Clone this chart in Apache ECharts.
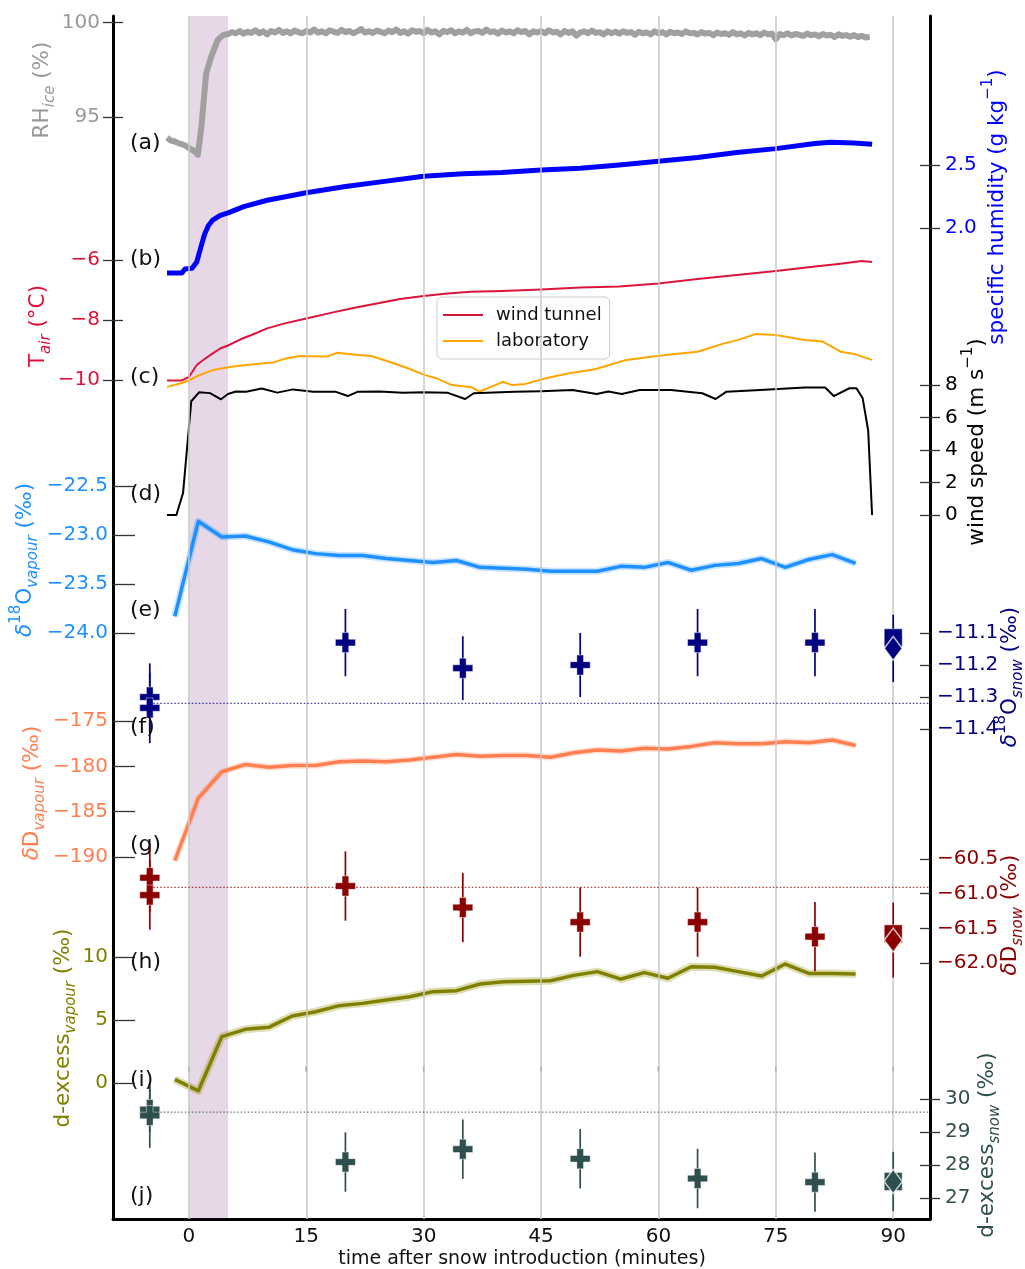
<!DOCTYPE html>
<html>
<head>
<meta charset="utf-8">
<script src="https://cdn.jsdelivr.net/npm/echarts@6/dist/echarts.min.js"></script>
<style>html,body{margin:0;padding:0;background:#fff}#chart{width:1025px;height:1269px}</style>
</head>
<body>
<div id="chart"></div>
<script>
// ================= DATA =================
const xTicks = [0, 15, 30, 45, 60, 75, 90];
const snowIntroBand = [0, 5];

const rhTicks = [95, 100];
const qTicks = [2.0, 2.5];
const tTicks = [-10, -8, -6];
const windTicks = [0, 2, 4, 6, 8];
const d18OvTicks = [-24.0, -23.5, -23.0, -22.5];
const d18OsTicks = [-11.4, -11.3, -11.2, -11.1];
const dDvTicks = [-190, -185, -180, -175];
const dDsTicks = [-62.0, -61.5, -61.0, -60.5];
const dexvTicks = [0, 5, 10];
const dexsTicks = [27, 28, 29, 30];

// (a) relative humidity over ice (%): rise phase, then 0.5-min samples from 5 to 87 min
const rhRiseTime = [-2.8, -2.3, -1.8, -1.3, -0.8, -0.3, 0.2, 0.7, 1.15, 1.6, 2.2, 2.85, 3.7, 4.4];
const rhRiseValue = [93.9, 93.75, 93.7, 93.6, 93.55, 93.45, 93.3, 93.2, 93.0, 94.5, 97.3, 98.2, 99.1, 99.35];
const rhSampleStart = 5, rhSampleStep = 0.5;
const rhSampleValue = [
  99.4, 99.5, 99.44, 99.56, 99.42, 99.52, 99.46, 99.6, 99.44, 99.54, 99.38, 99.56, 99.48, 99.62, 99.46, 99.54, 99.44, 99.58, 99.5, 99.44,
  99.56, 99.48, 99.64, 99.48, 99.54, 99.44, 99.6, 99.52, 99.46, 99.62, 99.5, 99.56, 99.44, 99.54, 99.66, 99.48, 99.54, 99.46, 99.58, 99.52,
  99.44, 99.58, 99.5, 99.64, 99.46, 99.54, 99.42, 99.6, 99.52, 99.56, 99.44, 99.62, 99.48, 99.54, 99.38, 99.56, 99.5, 99.6, 99.44, 99.54,
  99.48, 99.62, 99.44, 99.54, 99.56, 99.46, 99.64, 99.5, 99.54, 99.42, 99.58, 99.48, 99.54, 99.44, 99.6, 99.5, 99.56, 99.38, 99.54, 99.48,
  99.56, 99.44, 99.6, 99.48, 99.52, 99.38, 99.56, 99.46, 99.54, 99.32, 99.48, 99.54, 99.44, 99.58, 99.46, 99.5, 99.38, 99.54, 99.44, 99.52,
  99.42, 99.54, 99.46, 99.5, 99.36, 99.52, 99.44, 99.48, 99.38, 99.54, 99.44, 99.5, 99.38, 99.52, 99.44, 99.48, 99.4, 99.54, 99.44, 99.46,
  99.38, 99.5, 99.42, 99.46, 99.34, 99.48, 99.4, 99.44, 99.36, 99.5, 99.38, 99.44, 99.32, 99.46, 99.38, 99.44, 99.34, 99.48, 99.38, 99.42,
  99.12, 99.4, 99.34, 99.44, 99.32, 99.4, 99.36, 99.3, 99.42, 99.34, 99.38, 99.28, 99.4, 99.32, 99.36, 99.24, 99.38, 99.3, 99.34, 99.26,
  99.34, 99.24, 99.3, 99.22, 99.25];

// (b) specific humidity (g/kg)
const qTime = [-2.8, -0.9, -0.5, 0.4, 1.0, 1.4, 2.0, 2.5, 3.0, 4.0, 5, 7, 10, 15, 20, 25, 30, 35,
  40, 45, 50, 55, 60, 65, 70, 75, 80, 82, 85, 87.3];
const qValue = [1.643, 1.643, 1.675, 1.68, 1.73, 1.82, 1.95, 2.02, 2.06, 2.1, 2.12, 2.17, 2.22,
  2.28, 2.33, 2.37, 2.41, 2.43, 2.44, 2.46, 2.475, 2.5, 2.53, 2.56, 2.6, 2.63, 2.67, 2.68, 2.675, 2.665];

// (c) air temperature (°C)
const tTunnelTime = [-2.8, -1, 0, 1, 2, 3, 4, 5, 6, 7, 8, 10, 12, 15, 18, 21, 24, 27, 30, 33, 36,
  40, 45, 50, 55, 60, 65, 70, 75, 80, 83, 86, 87.3];
const tTunnel = [-10.02, -10.02, -9.9, -9.5, -9.3, -9.12, -8.95, -8.85, -8.72, -8.6, -8.5, -8.28,
  -8.13, -7.95, -7.77, -7.6, -7.45, -7.3, -7.2, -7.12, -7.06, -7.03, -6.98, -6.92, -6.88, -6.78,
  -6.63, -6.5, -6.37, -6.22, -6.13, -6.03, -6.07];
const tLabTime = [-2.8, -0.9, 0.1, 1.4, 3.1, 5.2, 7.3, 10.7, 12.4, 14.1, 17.6, 19, 21.6, 23.3, 25.6,
  27.9, 30.1, 31.6, 33.6, 36.1, 37.1, 38.7, 40.1, 41.3, 43, 45.6, 48.4, 51.9, 55.9, 59.3, 62.1, 65,
  68.4, 70.1, 72.4, 75, 78.7, 81, 83.3, 85, 87.3];
const tLab = [-10.23, -10.1, -10.0, -9.83, -9.67, -9.57, -9.5, -9.42, -9.28, -9.2, -9.22, -9.09,
  -9.17, -9.2, -9.39, -9.6, -9.83, -9.94, -10.17, -10.24, -10.39, -10.22, -10.06, -10.17, -10.13,
  -9.94, -9.78, -9.64, -9.33, -9.22, -9.13, -9.06, -8.78, -8.67, -8.47, -8.5, -8.67, -8.72, -9.06,
  -9.13, -9.33];

// (d) wind speed (m/s)
const windTime = [-2.8, -1.6, -0.75, 0.3, 1.3, 2.7, 4.1, 5.0, 6.0, 7.3, 9.3, 11.3, 13.3, 15.9, 18.7,
  20.3, 21.6, 24.4, 27.3, 30, 33, 35.3, 36.4, 41.6, 45, 49, 52.1, 53.6, 55.3, 57.6, 61.6, 65.6,
  67.3, 68.7, 73, 78.7, 81.3, 82.4, 84.4, 85.3, 86.1, 86.8, 87.3];
const windValue = [0, 0, 1.35, 7.0, 7.55, 7.5, 7.12, 7.45, 7.6, 7.59, 7.78, 7.53, 7.73, 7.59, 7.59,
  7.32, 7.59, 7.6, 7.53, 7.55, 7.53, 7.14, 7.49, 7.59, 7.62, 7.69, 7.45, 7.6, 7.45, 7.69, 7.69,
  7.49, 7.14, 7.59, 7.69, 7.84, 7.85, 7.32, 7.8, 7.8, 7.18, 5.2, 0];

// vapour isotopes (3-min means)
const isoTime = [-1.8, 1.2, 4.2, 7.2, 10.2, 13.2, 16.2, 19.2, 22.2, 25.2, 28.2, 31.2, 34.2, 37.2,
  40.2, 43.2, 46.2, 49.2, 52.2, 55.2, 58.2, 61.2, 64.2, 67.2, 70.2, 73.2, 76.2, 79.2, 82.2, 85.2];
const d18Ovap = [-23.83, -22.86, -23.02, -23.01, -23.07, -23.15, -23.19, -23.21, -23.21, -23.24,
  -23.26, -23.28, -23.26, -23.33, -23.34, -23.35, -23.37, -23.37, -23.37, -23.32, -23.33, -23.28,
  -23.36, -23.31, -23.29, -23.24, -23.33, -23.25, -23.20, -23.29];
const dDvap = [-190.4, -183.5, -180.6, -179.8, -180.1, -179.9, -179.9, -179.5, -179.4, -179.5,
  -179.3, -179.0, -178.7, -178.9, -178.8, -178.8, -179.0, -178.5, -178.2, -178.3, -178.0, -178.1,
  -177.8, -177.4, -177.5, -177.5, -177.3, -177.4, -177.1, -177.7];
const dexVap = [0.29, -0.63, 3.68, 4.26, 4.42, 5.32, 5.66, 6.14, 6.32, 6.59, 6.85, 7.25, 7.33,
  7.86, 8.04, 8.07, 8.12, 8.54, 8.84, 8.25, 8.76, 8.31, 9.23, 9.18, 8.84, 8.49, 9.44, 8.70, 8.70, 8.65];

// snow samples
const snowTime = [-5, -5, 20, 35, 50, 65, 80];
const d18Osnow = [-11.30, -11.334, -11.13, -11.21, -11.20, -11.13, -11.13];
const d18OsnowErr = [0.105, 0.11, 0.105, 0.1, 0.1, 0.105, 0.105];
const dDsnow = [-60.77, -61.02, -60.89, -61.20, -61.41, -61.41, -61.62];
const dDsnowErr = [0.5, 0.5, 0.5, 0.5, 0.5, 0.5, 0.5];
const dexSnow = [29.68, 29.5, 28.09, 28.48, 28.19, 27.59, 27.48];
const dexSnowErr = [0.68, 0.98, 0.9, 0.9, 0.9, 0.9, 0.9];

// final snow samples (t = 90)
const finalTime = [90];
const d18OsFinalSq = [-11.115], d18OsFinalDia = [-11.148], d18OsFinalErr = [0.105];
const dDsFinalSq = [-61.58], dDsFinalDia = [-61.67], dDsFinalErr = [0.54];
const dexsFinalSq = [27.5], dexsFinalDia = [27.5], dexsFinalErr = [0.9];

// initial snow reference levels (dotted)
const d18OsBase = -11.32, dDsBase = -60.91, dexsBase = 29.6;
const midTickLevel = 1.1; // small x-tick marks of inner panel

// ================= LAYOUT / STYLE =================
const FONT = 'DejaVu Sans';
const W = 1025, H = 1269;
const GRID = {left: 113, right: 95, top: 16, bottom: 50};
const T0 = GRID.top, B0 = H - GRID.bottom;
const X_MIN = -9.7, X_MAX = 94.7;
const PLUS = 'path://M2,0H4V2H6V4H4V6H2V4H0V2H2Z';

const rhTime = rhRiseTime.concat(rhSampleValue.map((_, i) => rhSampleStart + i * rhSampleStep));
const rhValue = rhRiseValue.concat(rhSampleValue);

function span(v1, p1, v2, p2) {
  const s = (p1 - p2) / (v2 - v1);
  return {min: v1 - (B0 - p1) / s, max: v1 + (p1 - T0) / s};
}
function fmt(v, d) { return Number(v).toFixed(d).replace('-', '\u2212'); }

const axisSpecs = [
  {key: 'rh', pos: 'left', cal: [100, 22.7, 95, 117], ticks: rhTicks, dec: 0, color: '#999999', tick: 'cross', spine: true},
  {key: 'q', pos: 'right', cal: [2.5, 165, 2.0, 228], ticks: qTicks, dec: 1, color: '#0000ff', tick: 'cross', spine: true},
  {key: 'T', pos: 'left', cal: [-6, 260, -10, 380], ticks: tTicks, dec: 0, color: '#dc143c', tick: 'cross'},
  {key: 'wind', pos: 'right', cal: [8, 385, 0, 515], ticks: windTicks, dec: 0, color: '#000000', tick: 'cross'},
  {key: 'd18Ov', pos: 'left', cal: [-22.5, 486, -24.0, 633], ticks: d18OvTicks, dec: 1, color: '#1e90ff', tick: 'in'},
  {key: 'd18Os', pos: 'right', cal: [-11.1, 633, -11.4, 729], ticks: d18OsTicks, dec: 1, color: '#000080', tick: 'in'},
  {key: 'dDv', pos: 'left', cal: [-175, 721, -190, 857], ticks: dDvTicks, dec: 0, color: '#ff7f50', tick: 'in'},
  {key: 'dDs', pos: 'right', cal: [-60.5, 859, -62.0, 963], ticks: dDsTicks, dec: 1, color: '#8b0000', tick: 'in'},
  {key: 'dexv', pos: 'left', cal: [10, 957, 0, 1083], ticks: dexvTicks, dec: 0, color: '#808000', tick: 'in'},
  {key: 'dexs', pos: 'right', cal: [30, 1099, 27, 1198], ticks: dexsTicks, dec: 0, color: '#2f4f4f', tick: 'cross'}
];
const C = {};
axisSpecs.forEach(s => C[s.key] = s.color);

const yAxes = [], yIdx = {};
axisSpecs.forEach(s => {
  const r = span(...s.cal);
  const cross = s.tick === 'cross', right = s.pos === 'right';
  yIdx[s.key] = yAxes.length;
  yAxes.push({
    type: 'value', gridIndex: 0, position: s.pos, offset: 0, min: r.min, max: r.max,
    axisLine: {show: !!s.spine, onZero: false, lineStyle: {color: '#000', width: 3}},
    splitLine: {show: false},
    axisTick: {show: true, customValues: s.ticks, inside: !cross, length: cross ? 10 : (right ? 10 : 22),
      lineStyle: {color: '#333', width: 1.3}},
    axisLabel: {show: true, customValues: s.ticks, margin: cross ? (right ? 15 : 13) : (right ? 7 : 5),
      color: s.color, fontSize: 20, fontFamily: FONT, formatter: v => fmt(v, s.dec)}
  });
  if (cross) {
    yAxes.push({
      type: 'value', gridIndex: 0, position: s.pos, offset: 0, min: r.min, max: r.max,
      axisLine: {show: false, onZero: false}, splitLine: {show: false},
      axisTick: {show: true, customValues: s.ticks, inside: true, length: 10, lineStyle: {color: '#333', width: 1.3}},
      axisLabel: {show: false}
    });
  }
});

function pairs(t, v) { return t.map((x, i) => [x, v[i]]); }
function lineS(name, t, v, key, color, width, z) {
  return {name: name, type: 'line', yAxisIndex: yIdx[key], data: pairs(t, v), symbol: 'none',
    clip: false, silent: true, z: z || 3, lineStyle: {color: color, width: width, join: 'round'},
    itemStyle: {color: color}};
}
function errS(t, v, e, key, color) {
  return {type: 'custom', yAxisIndex: yIdx[key], data: t.map((x, i) => [x, v[i], e[i]]),
    encode: {x: 0, y: 1}, clip: false, silent: true, z: 5,
    renderItem: (p, api) => {
      const x = api.value(0), y = api.value(1), er = api.value(2);
      const a = api.coord([x, y - er]), b = api.coord([x, y + er]);
      return {type: 'line', shape: {x1: a[0], y1: a[1], x2: b[0], y2: b[1]},
        style: {stroke: color, lineWidth: 1.7}};
    }};
}
function markS(t, v, key, color, symbol, size, z) {
  return {type: 'scatter', yAxisIndex: yIdx[key], data: pairs(t, v), symbol: symbol, symbolSize: size,
    clip: false, silent: true, z: z || 6,
    itemStyle: {color: color, borderColor: 'rgba(255,255,255,0.75)', borderWidth: symbol === 'diamond' ? 1.5 : 0.6, opacity: 1}};
}
function baseS(v, key, color) {
  return {type: 'line', yAxisIndex: yIdx[key], data: [[snowTime[0], v], [X_MAX, v]], symbol: 'none',
    clip: false, silent: true, z: 7, lineStyle: {color: color, width: 1.3, type: [1.5, 2], opacity: 0.75}};
}

const series = [
  // background: snow introduction band and vertical grid
  {type: 'line', yAxisIndex: 0, data: [], silent: true, z: 1,
    markArea: {silent: true, itemStyle: {color: 'rgba(120,40,130,0.18)'},
      data: [[{xAxis: snowIntroBand[0]}, {xAxis: snowIntroBand[1]}]]},
    markLine: {silent: true, symbol: 'none', label: {show: false},
      lineStyle: {color: '#c9c9c9', width: 1.5, type: 'solid'},
      data: xTicks.map(x => ({xAxis: x}))}},
  lineS('RH', rhTime, rhValue, 'rh', '#a0a0a0', 6),
  lineS('q', qTime, qValue, 'q', '#0000ff', 5),
  lineS('wind tunnel', tTunnelTime, tTunnel, 'T', '#dc143c', 2),
  lineS('laboratory', tLabTime, tLab, 'T', '#ffa500', 2),
  lineS('wind', windTime, windValue, 'wind', '#000000', 2),
  lineS('d18Ov band', isoTime, d18Ovap, 'd18Ov', 'rgba(30,144,255,0.25)', 7, 2),
  lineS('d18Ov', isoTime, d18Ovap, 'd18Ov', '#1e90ff', 3.5),
  lineS('dDv band', isoTime, dDvap, 'dDv', 'rgba(255,127,80,0.25)', 6.5, 2),
  lineS('dDv', isoTime, dDvap, 'dDv', '#ff7f50', 3.5),
  lineS('dexv band', isoTime, dexVap, 'dexv', 'rgba(160,160,40,0.35)', 8, 2),
  lineS('dexv', isoTime, dexVap, 'dexv', '#808000', 3.5),
  // snow samples
  errS(snowTime, d18Osnow, d18OsnowErr, 'd18Os', C.d18Os),
  markS(snowTime, d18Osnow, 'd18Os', C.d18Os, PLUS, 20),
  errS(finalTime, d18OsFinalDia, d18OsFinalErr, 'd18Os', C.d18Os),
  markS(finalTime, d18OsFinalSq, 'd18Os', C.d18Os, 'rect', 18),
  markS(finalTime, d18OsFinalDia, 'd18Os', C.d18Os, 'diamond', [18, 24], 8),
  baseS(d18OsBase, 'd18Os', C.d18Os),
  errS(snowTime, dDsnow, dDsnowErr, 'dDs', C.dDs),
  markS(snowTime, dDsnow, 'dDs', C.dDs, PLUS, 20),
  errS(finalTime, dDsFinalDia, dDsFinalErr, 'dDs', C.dDs),
  markS(finalTime, dDsFinalSq, 'dDs', C.dDs, 'rect', 18),
  markS(finalTime, dDsFinalDia, 'dDs', C.dDs, 'diamond', [18, 24], 8),
  baseS(dDsBase, 'dDs', C.dDs),
  errS(snowTime, dexSnow, dexSnowErr, 'dexs', C.dexs),
  markS(snowTime, dexSnow, 'dexs', C.dexs, PLUS, 20),
  errS(finalTime, dexsFinalDia, dexsFinalErr, 'dexs', C.dexs),
  markS(finalTime, dexsFinalSq, 'dexs', C.dexs, 'rect', 18),
  markS(finalTime, dexsFinalDia, 'dexs', C.dexs, 'diamond', [18, 24], 8),
  baseS(dexsBase, 'dexs', C.dexs),
  // small inner x ticks
  {type: 'scatter', yAxisIndex: yIdx.dexv, data: xTicks.map(x => [x, midTickLevel]), symbol: 'rect',
    symbolSize: [1.5, 5], silent: true, z: 4, itemStyle: {color: '#444'}}
];

function rich(color) {
  return {
    n: {fontSize: 21.5, fontFamily: FONT, fill: color, lineHeight: 32, verticalAlign: 'middle'},
    i: {fontSize: 21.5, fontFamily: FONT, fontStyle: 'italic', fill: color, lineHeight: 32, verticalAlign: 'middle'},
    s: {fontSize: 15, fontFamily: FONT, fontStyle: 'italic', fill: color, lineHeight: 17, verticalAlign: 'bottom'},
    p: {fontSize: 15, fontFamily: FONT, fill: color, lineHeight: 17, verticalAlign: 'top'}
  };
}
const axisTitles = [
  {text: '{n|RH}{s|ice}{n| (%)}', color: '#999999', x: 42, y: 90},
  {text: '{n|specific humidity (g kg}{p|\u22121}{n|)}', color: '#0000ff', x: 997, y: 207},
  {text: '{n|T}{s|air}{n| (\u00b0C)}', color: '#dc143c', x: 38, y: 326},
  {text: '{n|wind speed (m s}{p|\u22121}{n|)}', color: '#000000', x: 977, y: 442},
  {text: '{i|\u03b4}{p|18}{n|O}{s|vapour}{n| (\u2030)}', color: '#1e90ff', x: 25, y: 560},
  {text: '{i|\u03b4}{p|18}{n|O}{s|snow}{n| (\u2030)}', color: '#000080', x: 1010, y: 677},
  {text: '{i|\u03b4}{n|D}{s|vapour}{n| (\u2030)}', color: '#ff7f50', x: 32, y: 793},
  {text: '{i|\u03b4}{n|D}{s|snow}{n| (\u2030)}', color: '#8b0000', x: 1010, y: 915},
  {text: '{n|d-excess}{s|vapour}{n| (\u2030)}', color: '#808000', x: 63, y: 1028},
  {text: '{n|d-excess}{s|snow}{n| (\u2030)}', color: '#2f4f4f', x: 987, y: 1145}
];
const panelLabels = ['(a)', '(b)', '(c)', '(d)', '(e)', '(f)', '(g)', '(h)', '(i)', '(j)'];
const panelY = [143, 259, 377, 494, 610, 727, 845, 962, 1080, 1196];

const graphic = [];
axisTitles.forEach(t => graphic.push({
  type: 'text', x: t.x, y: t.y, rotation: Math.PI / 2, silent: true, z: 100,
  style: {text: t.text, rich: rich(t.color), align: 'center', verticalAlign: 'middle', fill: t.color,
    fontSize: 21.5, fontFamily: FONT}
}));
panelLabels.forEach((s, i) => graphic.push({
  type: 'text', x: 130, y: panelY[i], silent: true, z: 100,
  style: {text: s, fill: '#111', fontSize: 22, fontFamily: FONT, align: 'left', verticalAlign: 'middle'}
}));
graphic.push({
  type: 'text', x: 522, y: 1259, silent: true, z: 100,
  style: {text: 'time after snow introduction (minutes)', fill: '#111', fontSize: 19, fontFamily: FONT,
    align: 'center', verticalAlign: 'middle'}
});

const option = {
  animation: false,
  backgroundColor: '#ffffff',
  textStyle: {fontFamily: FONT},
  grid: {left: GRID.left, right: GRID.right, top: GRID.top, bottom: GRID.bottom, containLabel: false},
  legend: {
    data: ['wind tunnel', 'laboratory'], orient: 'vertical', left: 437, top: 297,
    icon: 'rect', itemWidth: 40, itemHeight: 2, itemGap: 6, padding: [8, 8, 8, 6],
    borderColor: '#cccccc', borderWidth: 1, borderRadius: 5, backgroundColor: 'rgba(255,255,255,0.85)',
    textStyle: {fontSize: 18, color: '#111', fontFamily: FONT, padding: [0, 0, 0, 8], lineHeight: 20},
    selectedMode: false
  },
  xAxis: {
    type: 'value', min: X_MIN, max: X_MAX,
    axisLine: {show: true, onZero: false, lineStyle: {color: '#000', width: 3}},
    axisTick: {show: false}, splitLine: {show: false},
    axisLabel: {customValues: xTicks, margin: 8, fontSize: 20, color: '#111', fontFamily: FONT}
  },
  yAxis: yAxes,
  series: series,
  graphic: graphic
};

const chart = echarts.init(document.getElementById('chart'), null, {renderer: 'canvas', width: W, height: H});
chart.setOption(option);
</script>
</body>
</html>
